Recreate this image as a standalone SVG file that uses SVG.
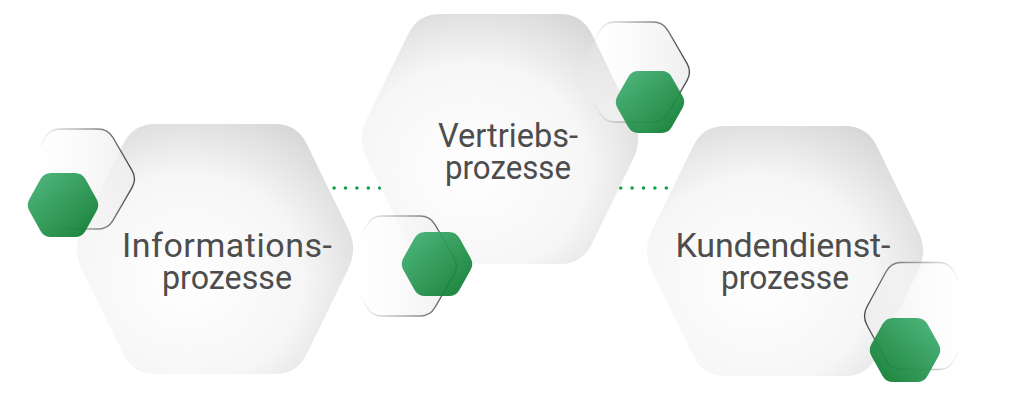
<svg xmlns="http://www.w3.org/2000/svg" xmlns:xlink="http://www.w3.org/1999/xlink" width="1024" height="404" viewBox="0 0 1024 404">
  <style>
    .label { font-family: Roboto, "Noto Sans", "Liberation Sans", sans-serif; font-size: 34px; fill: #4d4d4d; text-anchor: middle; }
    .outline { stroke-width: 1.3; vector-effect: non-scaling-stroke; }
    .dot { fill: #14a04a; }
  </style>
  <defs>
    <path id="bigHex" d="M60,-125 Q82,-125 91.65,-105.23 L133.35,-19.77 Q143,0 133.35,19.77 L91.65,105.23 Q82,125 60,125 L-60,125 Q-82,125 -91.65,105.23 L-133.35,19.77 Q-143,0 -133.35,-19.77 L-91.65,-105.23 Q-82,-125 -60,-125 Z"/>
    <path id="midHex" d="M19,-50 Q29,-50 34,-41.35 L53,-8.65 Q58,0 53,8.65 L34,41.35 Q29,50 19,50 L-19,50 Q-29,50 -34,41.35 L-53,8.65 Q-58,0 -53,-8.65 L-34,-41.35 Q-29,-50 -19,-50 Z"/>
    <path id="smallHex" d="M12,-32 Q19,-32 22.43,-25.9 L33.57,-6.1 Q37,0 33.57,6.1 L22.43,25.9 Q19,32 12,32 L-12,32 Q-19,32 -22.43,25.9 L-33.57,6.1 Q-37,0 -33.57,-6.1 L-22.43,-25.9 Q-19,-32 -12,-32 Z"/>
    <radialGradient id="bigFill" cx="0.4" cy="0.62" r="0.7" fx="0.4" fy="0.62">
      <stop offset="0" stop-color="#ffffff"/>
      <stop offset="0.6" stop-color="#f6f6f6"/>
      <stop offset="1" stop-color="#d8d8d9"/>
    </radialGradient>
    <linearGradient id="glassL" x1="0" y1="0" x2="1" y2="0">
      <stop offset="0" stop-color="#ffffff" stop-opacity="0"/>
      <stop offset="0.5" stop-color="#f7f7f7" stop-opacity="0.6"/>
      <stop offset="1" stop-color="#ededed" stop-opacity="0.9"/>
    </linearGradient>
    <linearGradient id="glassR" x1="1" y1="0" x2="0" y2="0">
      <stop offset="0" stop-color="#ffffff" stop-opacity="0"/>
      <stop offset="0.5" stop-color="#f7f7f7" stop-opacity="0.6"/>
      <stop offset="1" stop-color="#ededed" stop-opacity="0.9"/>
    </linearGradient>
    <linearGradient id="edgeL" x1="0" y1="0" x2="1" y2="0">
      <stop offset="0.12" stop-color="#444444" stop-opacity="0"/>
      <stop offset="0.5" stop-color="#555555" stop-opacity="0.45"/>
      <stop offset="1" stop-color="#444444" stop-opacity="1"/>
    </linearGradient>
    <linearGradient id="edgeR" x1="1" y1="0" x2="0" y2="0">
      <stop offset="0.12" stop-color="#444444" stop-opacity="0"/>
      <stop offset="0.5" stop-color="#555555" stop-opacity="0.45"/>
      <stop offset="1" stop-color="#444444" stop-opacity="1"/>
    </linearGradient>
    <linearGradient id="greenA" x1="0" y1="0" x2="1" y2="1">
      <stop offset="0" stop-color="#45b478"/>
      <stop offset="1" stop-color="#08772a"/>
    </linearGradient>
    <linearGradient id="greenB" x1="1" y1="0" x2="0" y2="1">
      <stop offset="0" stop-color="#45b478"/>
      <stop offset="1" stop-color="#08772a"/>
    </linearGradient>
  </defs>

  <rect width="1024" height="404" fill="#ffffff"/>

  <g id="connectors">
    <g id="connector-info-vertrieb">
      <circle class="dot" cx="322.7" cy="188" r="1.8"/>
      <circle class="dot" cx="334.1" cy="188" r="1.8"/>
      <circle class="dot" cx="345.5" cy="188" r="1.8"/>
      <circle class="dot" cx="356.9" cy="188" r="1.8"/>
      <circle class="dot" cx="368.3" cy="188" r="1.8"/>
      <circle class="dot" cx="379.7" cy="188" r="1.8"/>
    </g>
    <g id="connector-vertrieb-kunden">
      <circle class="dot" cx="620.7" cy="188" r="1.8"/>
      <circle class="dot" cx="632.1" cy="188" r="1.8"/>
      <circle class="dot" cx="643.5" cy="188" r="1.8"/>
      <circle class="dot" cx="654.9" cy="188" r="1.8"/>
      <circle class="dot" cx="666.3" cy="188" r="1.8"/>
      <circle class="dot" cx="677.7" cy="188" r="1.8"/>
    </g>
  </g>

  <g id="node-informationsprozesse">
    <use xlink:href="#bigHex" href="#bigHex" transform="translate(215,249)" fill="url(#bigFill)"/>
    <use xlink:href="#midHex" href="#midHex" class="outline" transform="translate(79,179)" fill="url(#glassL)" stroke="url(#edgeL)"/>
    <use xlink:href="#smallHex" href="#smallHex" transform="translate(63,205)" fill="url(#greenA)" opacity="0.93"/>
    <text class="label" x="227" y="257" textLength="210" lengthAdjust="spacing">Informations-</text>
    <text class="label" x="227" y="289" textLength="130" lengthAdjust="spacingAndGlyphs">prozesse</text>
  </g>

  <g id="node-vertriebsprozesse">
    <use xlink:href="#bigHex" href="#bigHex" transform="translate(500,139)" fill="url(#bigFill)"/>
    <use xlink:href="#midHex" href="#midHex" class="outline" transform="translate(401,266)" fill="url(#glassL)" stroke="url(#edgeL)"/>
    <use xlink:href="#smallHex" href="#smallHex" transform="translate(437,264)" fill="url(#greenA)" opacity="0.93"/>
    <use xlink:href="#midHex" href="#midHex" class="outline" transform="translate(634,72)" fill="url(#glassL)" stroke="url(#edgeL)"/>
    <use xlink:href="#smallHex" href="#smallHex" transform="translate(650,102) scale(0.97)" fill="url(#greenA)" opacity="0.93"/>
    <text class="label" x="508" y="147" textLength="140" lengthAdjust="spacingAndGlyphs">Vertriebs-</text>
    <text class="label" x="508" y="179" textLength="126" lengthAdjust="spacingAndGlyphs">prozesse</text>
  </g>

  <g id="node-kundendienstprozesse">
    <use xlink:href="#bigHex" href="#bigHex" transform="translate(785,251)" fill="url(#bigFill)"/>
    <use xlink:href="#midHex" href="#midHex" class="outline" transform="translate(920,316) scale(1,1.07)" fill="url(#glassR)" stroke="url(#edgeR)"/>
    <use xlink:href="#smallHex" href="#smallHex" transform="translate(905,350)" fill="url(#greenB)" opacity="0.93"/>
    <text class="label" x="783" y="257" textLength="215" lengthAdjust="spacing">Kundendienst-</text>
    <text class="label" x="785" y="289" textLength="128" lengthAdjust="spacingAndGlyphs">prozesse</text>
  </g>
</svg>
